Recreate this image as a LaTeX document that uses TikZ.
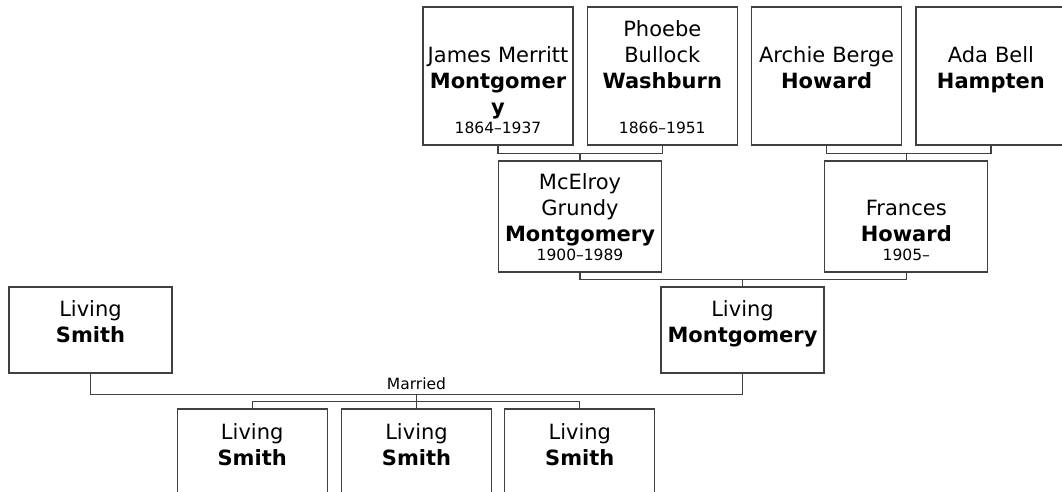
\documentclass[tikz,border=0pt]{standalone}
\usepackage{fontspec}
\setmainfont{DejaVu Sans}
\usetikzlibrary{positioning}

\begin{document}
\begin{tikzpicture}[
  x=1pt, y=-1pt,
  person/.style={draw=black!75, line width=1.3pt, inner sep=0pt, align=center,
                 font=\fontsize{21pt}{26pt}\selectfont},
  elderbox/.style={person, text width=150pt},
  parentbox/.style={person, text width=163pt},
  kidbox/.style={person, text width=150pt, text height=30pt, text depth=56pt},
  txt/.style 2 args={text height=#1, text depth=#2},
  years/.style={anchor=base, inner sep=0pt, font=\fontsize{15.5pt}{18pt}\selectfont},
  married/.style={above, inner sep=4pt, font=\fontsize{15.5pt}{18pt}\selectfont},
  link/.style={draw=black!75, line width=1.3pt}
]
\useasboundingbox (0,0) rectangle (1062,491);
% grandparents
\node[elderbox, txt={55pt}{83pt}] (jm) at (498,76) {James Merritt\\\textbf{Montgomer}\\\textbf{y}};
\node[elderbox, txt={29pt}{109pt}, right=13pt of jm] (pb) {Phoebe\\Bullock\\\textbf{Washburn}};
\node[elderbox, txt={55pt}{83pt}, right=13pt of pb] (ab) {Archie Berge\\\textbf{Howard}};
\node[elderbox, txt={55pt}{83pt}, right=13pt of ab] (ada) {Ada Bell\\\textbf{Hampten}};
\node[years] (jmy) at ([yshift=12pt]jm.south) {1864–1937};
\node[years] (pby) at ([yshift=12pt]pb.south) {1866–1951};
% parents
\node[parentbox, txt={28pt}{83pt}] (mce) at (580,216.5) {McElroy\\Grundy\\\textbf{Montgomery}};
\node[parentbox, txt={54pt}{57pt}, right=162pt of mce] (fra) {Frances\\\textbf{Howard}};
\node[years] (mcey) at ([yshift=12pt]mce.south) {1900–1989};
\node[years] (fray) at ([yshift=12pt]fra.south) {1905–};
% couple
\node[parentbox, txt={29pt}{57pt}] (lsm) at (90.5,330) {Living\\\textbf{Smith}};
\node[parentbox, txt={29pt}{57pt}] (lmo) at (742.5,330) {Living\\\textbf{Montgomery}};
% children
\node[kidbox] (kid2) at (416.5,452) {Living\\\textbf{Smith}};
\node[kidbox, left=13pt of kid2] (kid1) {Living\\\textbf{Smith}};
\node[kidbox, right=12pt of kid2] (kid3) {Living\\\textbf{Smith}};

\draw[link] (jm.south) -- ++(0,8) coordinate (jp) -| (pb.south);
\draw[link] (jp -| mce.north) -- (mce.north);
\draw[link] (ab.south) -- ++(0,8) coordinate (ap) -| (ada.south);
\draw[link] (ap -| fra.north) -- (fra.north);
\draw[link] (mce.south) -- ++(0,7) coordinate (mp) -| (fra.south);
\draw[link] (mp -| lmo.north) -- (lmo.north);
\draw[link] (lsm.south) -- ++(0,21) coordinate (wp)
  -- node[married] (wed) {Married} (wp -| lmo.south) -- (lmo.south);
\draw[link] (wp -| kid2.north) -- (kid2.north);
\draw[link] (kid1.north) -- ++(0,-7) -| (kid3.north);
\end{tikzpicture}
\end{document}
